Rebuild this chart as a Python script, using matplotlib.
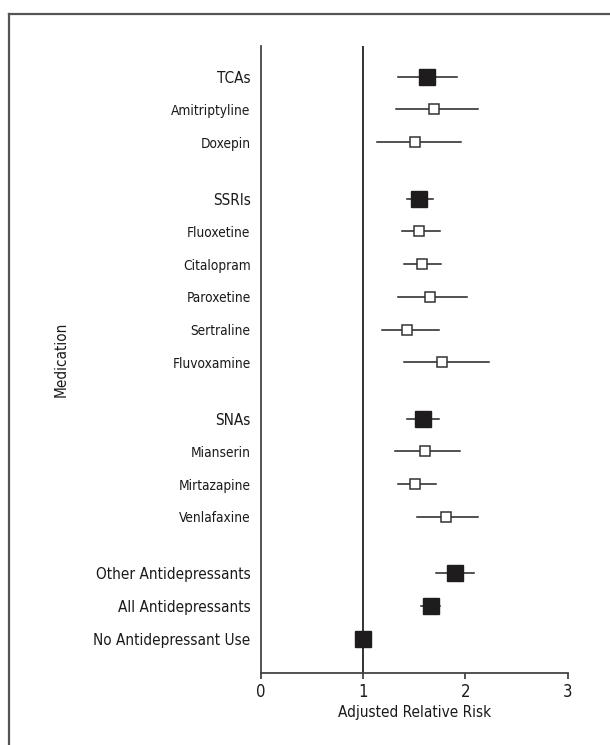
import matplotlib
matplotlib.use("Agg")
import matplotlib.pyplot as plt
from matplotlib.lines import Line2D

plt.rcParams['font.family'] = ['DejaVu Sans']
plt.rcParams['font.stretch'] = 'condensed'

# groups of rows, top to bottom
groups = [
    ["TCAs", "Amitriptyline", "Doxepin"],
    ["SSRIs", "Fluoxetine", "Citalopram", "Paroxetine", "Sertraline", "Fluvoxamine"],
    ["SNAs", "Mianserin", "Mirtazapine", "Venlafaxine"],
    ["Other Antidepressants", "All Antidepressants", "No Antidepressant Use"],
]
summary_rows = ["TCAs", "SSRIs", "SNAs", "Other Antidepressants",
                "All Antidepressants", "No Antidepressant Use"]

rr = [1.62, 1.69, 1.51,
      1.55, 1.55, 1.57, 1.65, 1.43, 1.77,
      1.58, 1.60, 1.51, 1.81,
      1.90, 1.66, 1.00]
ci_low = [1.34, 1.32, 1.13,
          1.43, 1.38, 1.40, 1.34, 1.18, 1.40,
          1.43, 1.31, 1.34, 1.53,
          1.71, 1.56, 1.00]
ci_high = [1.92, 2.12, 1.96,
           1.68, 1.75, 1.76, 2.01, 1.74, 2.23,
           1.74, 1.95, 1.71, 2.12,
           2.08, 1.75, 1.00]

x_ticks = [0, 1, 2, 3]

# row positions with extra space between groups
labels, ypos = [], []
y = 0.0
for g in groups:
    for name in g:
        labels.append(name)
        ypos.append(y)
        y += 1.0
    y += 0.72

fig = plt.figure(figsize=(6.1, 7.45), dpi=100)
ax = fig.add_axes([0.4279, 0.0966, 0.5028, 0.8417])

ax.axvline(1, color="#222222", lw=1.3, zorder=1)

for name, yy, m, lo, hi in zip(labels, ypos, rr, ci_low, ci_high):
    big = name in summary_rows
    if hi > lo:
        ax.plot([lo, hi], [yy, yy], color="#222222", lw=1.1, zorder=2)
    if big:
        ax.plot(m, yy, marker="s", ms=11.5, mfc="#1e1c1c", mec="#1e1c1c", zorder=3)
    else:
        ax.plot(m, yy, marker="s", ms=7.6, mfc="white", mec="#333333", mew=1.1, zorder=3)

ax.set_xlim(0, 3)
ax.set_ylim(ypos[-1] + 1.05, -0.94)
ax.set_xticks(x_ticks)
ax.set_xticklabels([str(t) for t in x_ticks], fontsize=12)
ax.set_yticks(ypos)
ax.set_yticklabels(labels)
for lab in ax.get_yticklabels():
    lab.set_fontsize(11 if lab.get_text() in summary_rows else 9.8)
ax.tick_params(axis="y", length=0, pad=7.5, colors="#1a1a1a")
ax.tick_params(axis="x", length=4, width=1.2, colors="#333333", labelcolor="#1a1a1a", pad=3)

ax.spines["top"].set_visible(False)
ax.spines["right"].set_visible(False)
for s in ("left", "bottom"):
    ax.spines[s].set_color("#444444")
    ax.spines[s].set_linewidth(1.3)

ax.set_xlabel("Adjusted Relative Risk", fontsize=11, color="#1a1a1a", labelpad=3)
fig.text(0.101, 0.518, "Medication", rotation=90, ha="center", va="center",
         fontsize=11, color="#1a1a1a")

# outer frame (top and left edges)
fx, fy = 9 / 610, 1 - 14 / 745
fig.add_artist(Line2D([fx, 1.0], [fy, fy], color="#555555", lw=1.6))
fig.add_artist(Line2D([fx, fx], [0.0, fy], color="#555555", lw=1.6))

fig.savefig("out.png", dpi=100)
